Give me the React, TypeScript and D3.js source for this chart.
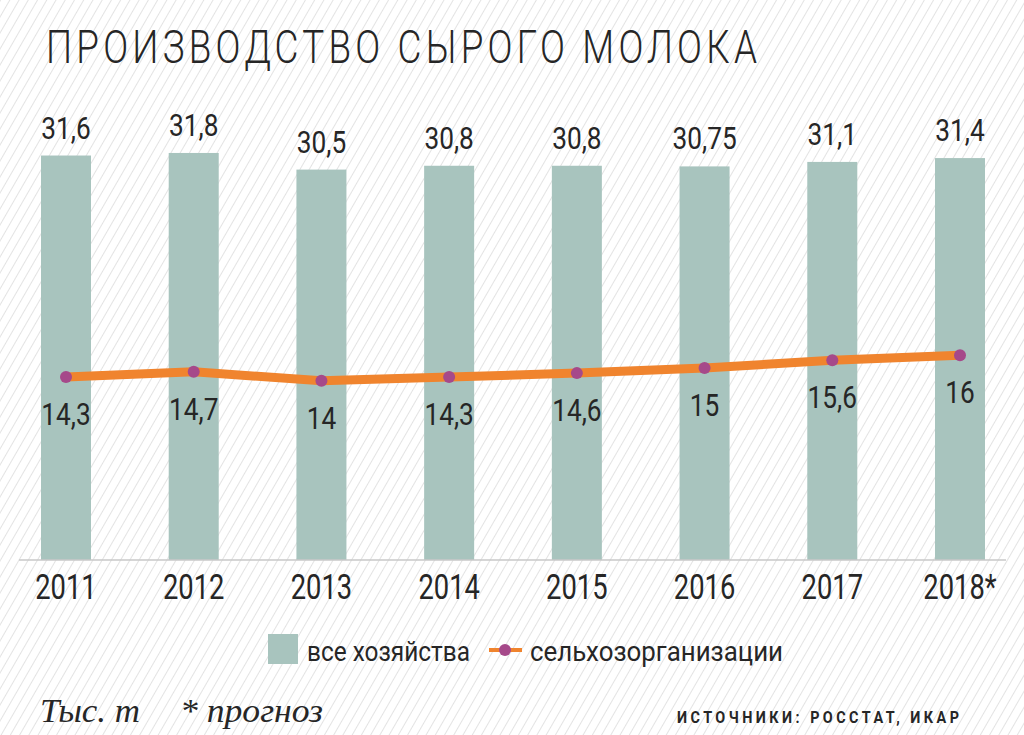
import * as d3 from "d3";
import type { ReactNode } from "react";

const YEARS = ["2011", "2012", "2013", "2014", "2015", "2016", "2017", "2018*"];
const ALL_FARMS = [31.6, 31.8, 30.5, 30.8, 30.8, 30.75, 31.1, 31.4];
const ALL_FARMS_LABELS = ["31,6", "31,8", "30,5", "30,8", "30,8", "30,75", "31,1", "31,4"];
const AGRI_ORGS = [14.3, 14.7, 14, 14.3, 14.6, 15, 15.6, 16];
const AGRI_ORGS_LABELS = ["14,3", "14,7", "14", "14,3", "14,6", "15", "15,6", "16"];

const W = 1024;
const H = 735;
const SANS = "Roboto, 'Noto Sans', sans-serif";
const SERIF = "'Liberation Serif', 'DejaVu Serif', serif";
const BAR = "#a8c4be";
const ORANGE = "#f0842e";
const PURPLE = "#a6498a";
const INK = "#262626";

// narrow text: the original uses a condensed face, so squeeze horizontally
function NText(props: {
  x: number;
  y: number;
  sx?: number;
  size: number;
  anchor?: "start" | "middle" | "end";
  weight?: number;
  len?: number;
  adjust?: "spacing" | "spacingAndGlyphs";
  children: ReactNode;
}) {
  const {
    x, y, sx = 0.8, size, anchor = "start", weight = 400, len, adjust = "spacing", children,
  } = props;
  return (
    <text
      transform={`translate(${x},${y}) scale(${sx},1)`}
      textAnchor={anchor}
      fontFamily={SANS}
      fontSize={size}
      fontWeight={weight}
      fill={INK}
      textLength={len ? len / sx : undefined}
      lengthAdjust={len ? adjust : undefined}
    >
      {children}
    </text>
  );
}

export default function App() {
  const x = d3.scalePoint<string>().domain(YEARS).range([66, 960]);
  const y = d3.scaleLinear().domain([0, 35]).range([560, 112]);
  const barW = 50;

  const line = d3
    .line<number>()
    .x((_, i) => x(YEARS[i])!)
    .y((d) => y(d));

  return (
    <svg
      width={W}
      height={H}
      style={{ position: "absolute", left: 0, top: 0, background: "#fff" }}
    >
      <defs>
        <pattern
          id="hatch"
          width={8}
          height={8}
          patternUnits="userSpaceOnUse"
          patternTransform="rotate(30)"
        >
          <line x1={0} y1={0} x2={0} y2={8} stroke="#d4d4d4" strokeWidth={1.3} />
        </pattern>
      </defs>
      <rect width={W} height={H} fill="url(#hatch)" />

      {/* title */}
      <NText x={46} y={63} size={46} weight={300} sx={0.8} len={711}>
        ПРОИЗВОДСТВО СЫРОГО МОЛОКА
      </NText>

      {/* bars */}
      {ALL_FARMS.map((v, i) => (
        <g key={YEARS[i]}>
          <rect
            x={x(YEARS[i])! - barW / 2}
            y={y(v)}
            width={barW}
            height={y(0) - y(v)}
            fill={BAR}
          />
          <NText x={x(YEARS[i])!} y={y(v) - 17} size={32} anchor="middle" sx={0.82}>
            {ALL_FARMS_LABELS[i]}
          </NText>
        </g>
      ))}

      {/* axis */}
      <line x1={19} x2={1006} y1={y(0)} y2={y(0)} stroke="#c9c9c9" strokeWidth={1.5} />
      {YEARS.map((yr) => (
        <NText key={yr} x={x(yr)!} y={599} size={36} anchor="middle" sx={0.76}>
          {yr}
        </NText>
      ))}

      {/* line series */}
      <path
        d={line(AGRI_ORGS) ?? ""}
        fill="none"
        stroke={ORANGE}
        strokeWidth={9}
        strokeLinejoin="round"
      />
      {AGRI_ORGS.map((v, i) => (
        <g key={"p" + i}>
          <circle cx={x(YEARS[i])!} cy={y(v)} r={6} fill={PURPLE} />
          <NText x={x(YEARS[i])!} y={y(v) + 48} size={32} anchor="middle" sx={0.82}>
            {AGRI_ORGS_LABELS[i]}
          </NText>
        </g>
      ))}

      {/* legend */}
      <rect x={268} y={634} width={30} height={30} fill={BAR} />
      <NText x={307} y={661} size={27} sx={1} len={163} adjust="spacingAndGlyphs">
        все хозяйства
      </NText>
      <line x1={489} x2={522} y1={650} y2={650} stroke={ORANGE} strokeWidth={4} />
      <circle cx={505} cy={650} r={6} fill={PURPLE} />
      <NText x={530} y={661} size={27} sx={1} len={253} adjust="spacingAndGlyphs">
        сельхозорганизации
      </NText>

      {/* footer */}
      <text
        x={40}
        y={722}
        fontFamily={SERIF}
        fontStyle="italic"
        fontSize={34}
        fill={INK}
        textLength={100}
        lengthAdjust="spacingAndGlyphs"
      >
        Тыс. т
      </text>
      <text
        x={180}
        y={722}
        fontFamily={SERIF}
        fontStyle="italic"
        fontSize={34}
        fill={INK}
        textLength={143}
        lengthAdjust="spacingAndGlyphs"
      >
        * прогноз
      </text>
      <NText x={677} y={723} size={16} weight={700} sx={0.9} len={282}>
        ИСТОЧНИКИ: РОССТАТ, ИКАР
      </NText>
    </svg>
  );
}
